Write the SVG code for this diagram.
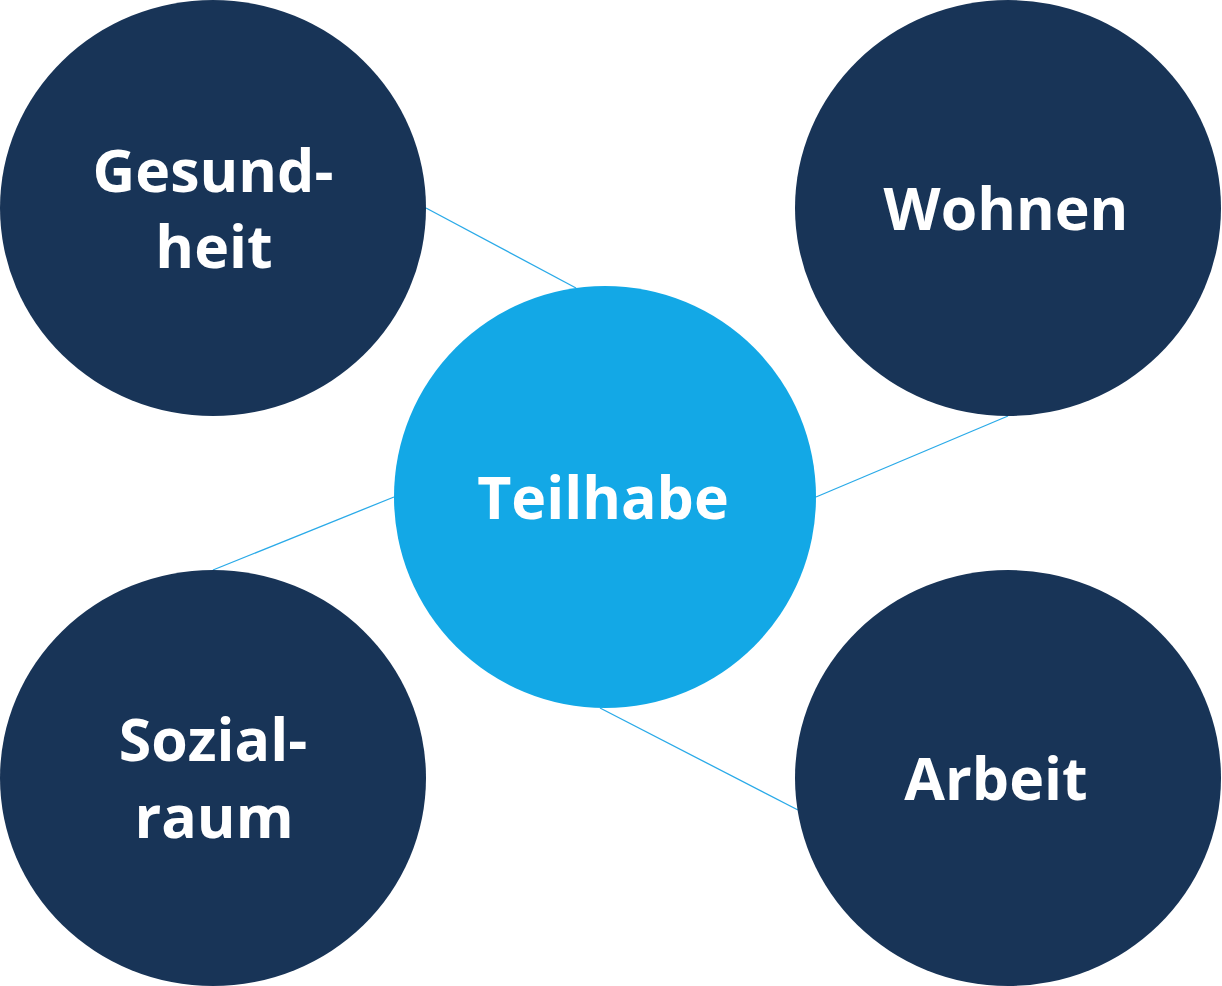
<svg xmlns="http://www.w3.org/2000/svg" width="1222" height="986" viewBox="0 0 1222 986">
<style>
.outer{fill:#183457}
.center{fill:#13a8e6}
.lbl{font-family:"Open Sans","Liberation Sans",sans-serif;font-weight:700;font-size:59px;fill:#ffffff;text-anchor:middle}
.conn line{stroke:#2aaae8;stroke-width:1.3;fill:none}
</style>
<rect width="1222" height="986" fill="#ffffff"/>
<g id="connectors" class="conn">
<line x1="426" y1="208" x2="576" y2="288"/>
<line x1="816" y1="497" x2="1008" y2="416"/>
<line x1="394" y1="497" x2="213" y2="570"/>
<line x1="600" y1="708" x2="798" y2="810"/>
</g>
<g id="gesundheit">
<ellipse class="outer" cx="213" cy="208" rx="213" ry="208"/>
<text class="lbl" x="213" y="192">Gesund-</text>
<text class="lbl" x="214" y="268">heit</text>
</g>
<g id="wohnen">
<ellipse class="outer" cx="1008" cy="208" rx="213" ry="208"/>
<text class="lbl" x="1006" y="230">Wohnen</text>
</g>
<g id="sozialraum">
<ellipse class="outer" cx="213" cy="778" rx="213" ry="208"/>
<text class="lbl" x="213" y="761">Sozial-</text>
<text class="lbl" x="214" y="838">raum</text>
</g>
<g id="arbeit">
<ellipse class="outer" cx="1008" cy="778" rx="213" ry="208"/>
<text class="lbl" x="996" y="800">Arbeit</text>
</g>
<g id="teilhabe">
<ellipse class="center" cx="605" cy="497" rx="211" ry="211"/>
<text class="lbl" x="603" y="519">Teilhabe</text>
</g>
</svg>
